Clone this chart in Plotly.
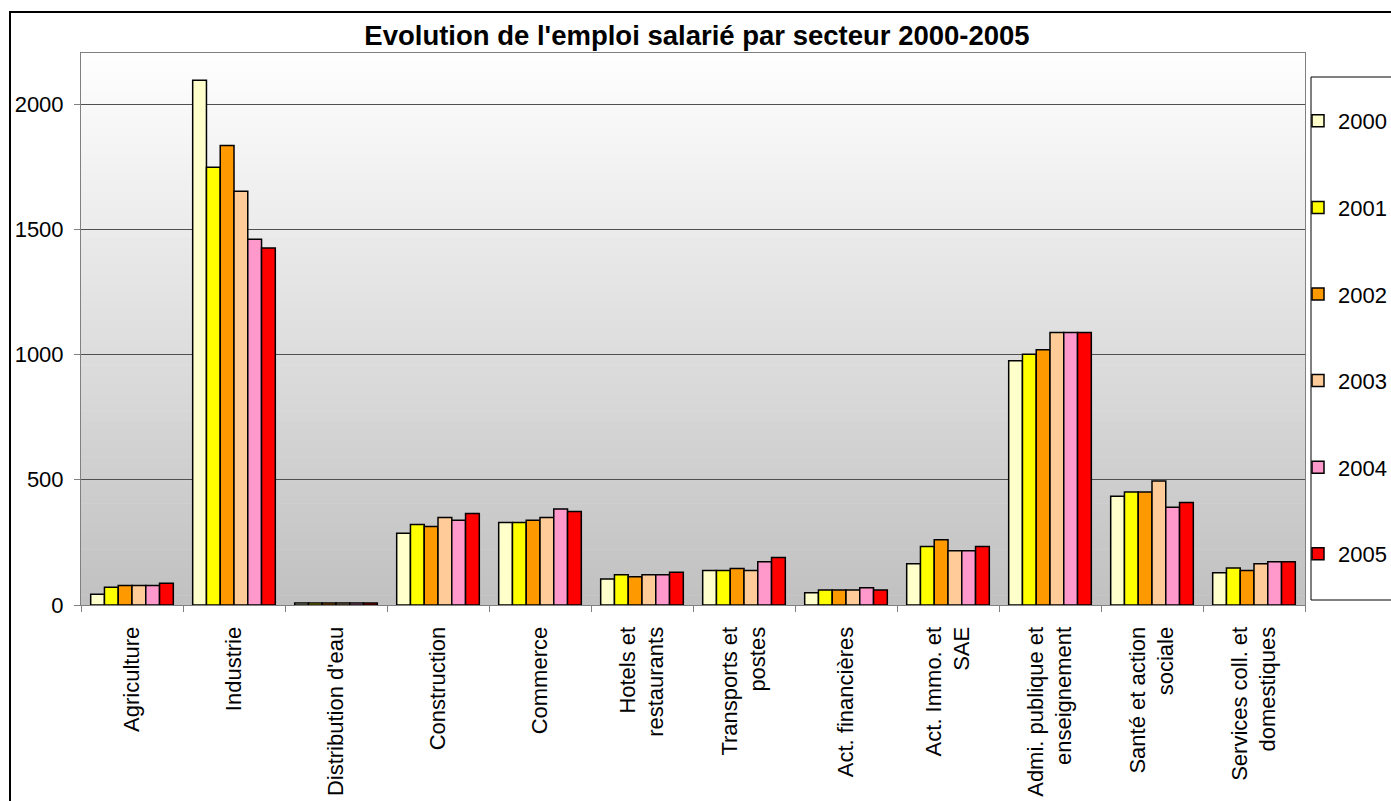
import plotly.graph_objects as go

categories = [
    "Agriculture", "Industrie", "Distribution d'eau", "Construction", "Commerce",
    "Hotels et<br>restaurants", "Transports et<br>postes", "Act. financières",
    "Act. Immo. et<br>SAE", "Admi. publique et<br>enseignement",
    "Santé et action<br>sociale", "Services coll. et<br>domestiques",
]
years = ["2000", "2001", "2002", "2003", "2004", "2005"]

v2000 = [43, 2095, 8, 286, 329, 104, 138, 49, 165, 975, 434, 129]
v2001 = [71, 1748, 8, 321, 329, 121, 138, 60, 234, 1001, 451, 148]
v2002 = [78, 1835, 8, 313, 338, 113, 146, 60, 261, 1019, 451, 138]
v2003 = [78, 1652, 8, 349, 349, 121, 138, 60, 217, 1088, 495, 165]
v2004 = [78, 1460, 8, 338, 383, 121, 173, 69, 217, 1088, 390, 173]
v2005 = [87, 1425, 8, 365, 373, 131, 190, 60, 234, 1088, 409, 173]
series = [v2000, v2001, v2002, v2003, v2004, v2005]
colors = ["#FFFFCC", "#FFFF00", "#FF9900", "#FFCC99", "#FF99CC", "#FF0000"]

y_ticks = [0, 500, 1000, 1500, 2000]
title_text = "Evolution de l'emploi salarié par secteur 2000-2005"

FONT = "Liberation Sans, Arial, sans-serif"

# plot area in pixels
PL, PR, PT, PB = 81, 1305, 53, 605
PW, PH = PR - PL, PB - PT


def px_x(x):
    return (x - PL) / PW


def px_y(y):
    return (PB - y) / PH


fig = go.Figure()
for yr, vals, col in zip(years, series, colors):
    fig.add_trace(go.Bar(
        name=yr, x=categories, y=vals,
        marker=dict(color=col, line=dict(color="black", width=1.5)),
        legendgroup=yr,
    ))

# gradient background strips
n = 60
shapes = []
for i in range(n):
    f0 = i / n
    f1 = (i + 1) / n
    fm = (f0 + f1) / 2
    c = int(round(192 + fm * (255 - 192)))
    shapes.append(dict(
        type="rect", xref="x domain", yref="y domain",
        x0=0, x1=1, y0=f0, y1=f1 + 0.001,
        fillcolor=f"rgb({c},{c},{c})", line=dict(width=0), layer="below",
    ))
# outer chart border
shapes.append(dict(
    type="rect", xref="paper", yref="paper",
    x0=px_x(10), x1=px_x(1420), y0=px_y(840), y1=px_y(12),
    line=dict(color="black", width=2), fillcolor="rgba(0,0,0,0)", layer="above",
))
# legend box
shapes.append(dict(
    type="rect", xref="paper", yref="paper",
    x0=px_x(1311), x1=px_x(1400), y0=px_y(600), y1=px_y(77),
    line=dict(color="black", width=1), fillcolor="white", layer="below",
))

fig.update_layout(
    width=1391, height=801,
    margin=dict(l=PL, r=1391 - PR, t=PT, b=801 - PB, autoexpand=False),
    paper_bgcolor="white",
    plot_bgcolor="rgba(0,0,0,0)",
    barmode="group",
    bargap=0.19,
    bargroupgap=0,
    font=dict(family=FONT, size=22, color="black"),
    title=dict(
        text=title_text, x=697 / 1391, xanchor="center",
        y=1 - 35 / 801, yanchor="middle",
        font=dict(family=FONT, size=27.5, color="black", weight="bold"),
    ),
    shapes=shapes,
    showlegend=True,
    legend=dict(
        x=px_x(1298), xanchor="left",
        y=px_y(100), yanchor="top",
        bgcolor="rgba(0,0,0,0)", borderwidth=0,
        font=dict(family=FONT, size=22, color="black"),
        tracegroupgap=55,
        traceorder="grouped",
    ),
    xaxis=dict(
        type="category",
        automargin=False,
        tickangle=-90,
        tickson="boundaries",
        ticks="outside", ticklen=6, tickcolor="#808080",
        ticklabelstandoff=12,
        showline=True, linecolor="#808080", linewidth=1, mirror=True,
        showgrid=False,
        tickfont=dict(family=FONT, size=22, color="black"),
    ),
    yaxis=dict(
        automargin=False,
        range=[0, 2204],
        tickvals=y_ticks,
        ticks="outside", ticklen=6, tickcolor="#808080",
        ticklabelstandoff=6,
        showline=True, linecolor="#808080", linewidth=1, mirror=True,
        showgrid=True, gridcolor="#505050", gridwidth=1,
        zeroline=False,
        tickfont=dict(family=FONT, size=22, color="black"),
    ),
)

fig.write_html(
    "out.html",
    config={"displayModeBar": False},
    post_script="document.body.style.margin='0';",
)
